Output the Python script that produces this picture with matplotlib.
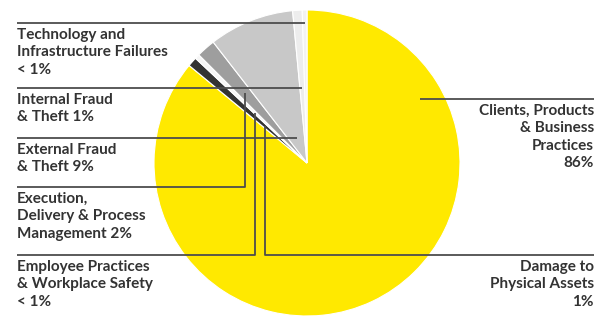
import numpy as np
import matplotlib.pyplot as plt

# Share of operational risk losses by event type
labels = ['Clients, Products\n& Business\nPractices\n86%',
          'Damage to\nPhysical Assets\n1%',
          'Employee Practices\n& Workplace Safety\n< 1%',
          'Execution,\nDelivery & Process\nManagement 2%',
          'External Fraud\n& Theft 9%',
          'Internal Fraud\n& Theft 1%',
          'Technology and\nInfrastructure Failures\n< 1%']
shares = [86, 1, 0.5, 2, 9, 1, 0.5]
colors = ['#FFE900', '#333333', '#F6F6F6', '#9E9E9E', '#C8C8C8', '#EDEDED', '#F2F2F2']

W, H = 601, 320
fig = plt.figure(figsize=(W / 100, H / 100), dpi=100)
ax = fig.add_axes([0, 0, 1, 1])

cx, cy, r = 307, 157, 153
wedges, _ = ax.pie(shares, colors=colors, startangle=90, counterclock=False,
                   center=(cx, cy), radius=r, frame=True,
                   wedgeprops=dict(edgecolor='white', linewidth=0.8))
ax.set_xlim(0, W)
ax.set_ylim(0, H)
ax.set_aspect('auto')
ax.set_axis_off()


def mid_angle(w):
    return np.radians((w.theta1 + w.theta2) / 2)


def x_on_ray(w, y):
    return cx + (y - cy) / np.tan(mid_angle(w))


def y_on_ray(w, x):
    return cy + (x - cx) * np.tan(mid_angle(w))


line_kw = dict(color='#4d4d4d', lw=1.3, zorder=5, solid_capstyle='butt')
text_kw = dict(fontsize=11, fontweight='bold', color='#333333', family='Lato',
               linespacing=1.3, va='top')

# left side labels: line from the text straight to the wedge
left_x = 17
for idx, y_line in [(6, 297), (5, 232), (4, 182)]:
    ax.plot([left_x, x_on_ray(wedges[idx], y_line)], [y_line, y_line], **line_kw)
    ax.text(left_x, y_line - 5, labels[idx], ha='left', **text_kw)

# left side labels with an elbow into the thin wedges
for idx, y_line, xv in [(3, 133, 245), (2, 65, 255)]:
    ytop = y_on_ray(wedges[idx], xv)
    ax.plot([left_x, xv, xv], [y_line, y_line, ytop], **line_kw)
    ax.text(left_x, y_line - 5, labels[idx], ha='left', **text_kw)

# right side labels
right_x = 594
ytop = y_on_ray(wedges[1], 265)
ax.plot([right_x, 265, 265], [65, 65, ytop], **line_kw)
ax.text(right_x, 60, labels[1], ha='right', **text_kw)

ax.plot([420, right_x], [221, 221], **line_kw)
ax.text(right_x, 216, labels[0], ha='right', **text_kw)

fig.savefig('out.png', dpi=100, facecolor='white')
